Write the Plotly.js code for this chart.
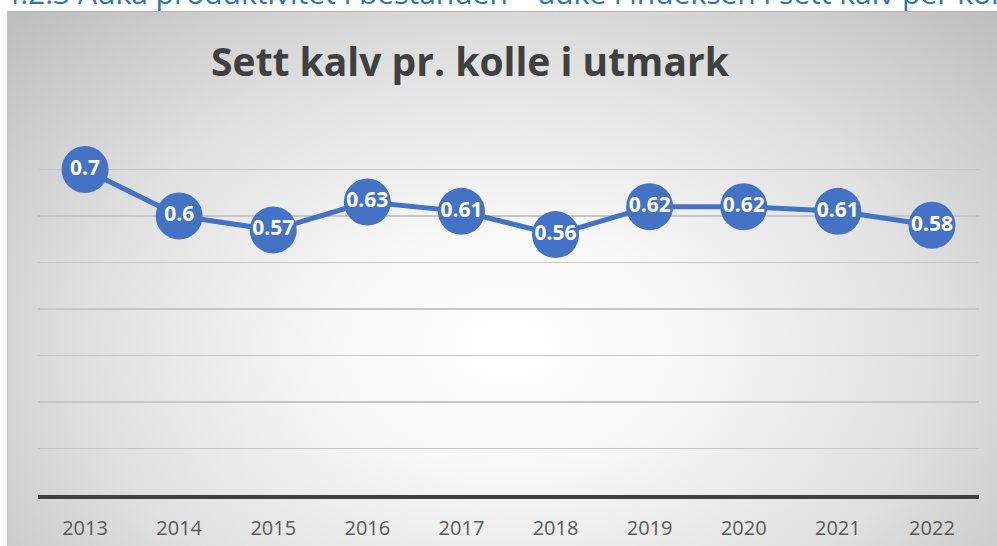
<!DOCTYPE html>
<html>
<head>
<meta charset="utf-8">
<script src="https://cdn.plot.ly/plotly-3.0.1.min.js"></script>
<style>
  html, body { margin: 0; padding: 0; background: #ffffff; width: 997px; height: 546px; overflow: hidden; }
  #heading {
    position: absolute; left: 3px; top: -28px; white-space: nowrap;
    font-family: "Open Sans", sans-serif; font-size: 30px; color: #2E75B6; z-index: 0;
  }
  #box {
    position: absolute; left: 7px; top: 11px; width: 1000px; height: 560px;
    border-top: 1px solid #b4b4b4; border-left: 1px solid #c8c8c8;
    background: radial-gradient(ellipse 68% 85% at 50% 60%, #ffffff 0%, #f8f8f8 25%, #e0e0e0 62%, #bebebe 100%);
    z-index: 1;
  }
  #chart { position: absolute; left: 0; top: 0; width: 997px; height: 546px; z-index: 2; }
</style>
</head>
<body>
<div id="heading">4.2.3 Auka produktivitet i bestanden – auke i indeksen i sett kalv per kolle</div>
<div id="box"></div>
<div id="chart"></div>
<script>
const chartTitle = "Sett kalv pr. kolle i utmark";
const years = ["2013", "2014", "2015", "2016", "2017", "2018", "2019", "2020", "2021", "2022"];
const calvesPerCow = [0.70, 0.60, 0.57, 0.63, 0.61, 0.56, 0.62, 0.62, 0.61, 0.58];

const trace = {
  type: "scatter",
  mode: "lines+markers+text",
  x: years,
  y: calvesPerCow,
  text: calvesPerCow.map(v => String(v)),
  textposition: "middle center",
  textfont: { family: "Open Sans", size: 21, color: "#ffffff", weight: "bold" },
  line: { color: "#4472C4", width: 5 },
  marker: { color: "#4472C4", size: 47, line: { width: 0 } },
  cliponaxis: false,
  hoverinfo: "x+y"
};

const layout = {
  width: 997,
  height: 546,
  margin: { l: 38, r: 18, t: 123, b: 51 },
  paper_bgcolor: "rgba(0,0,0,0)",
  plot_bgcolor: "rgba(0,0,0,0)",
  showlegend: false,
  title: {
    text: "<b>" + chartTitle + "</b>",
    font: { family: "Open Sans", size: 39, color: "#404040" },
    xref: "container", x: 470 / 997, xanchor: "center",
    yref: "container", y: 1 - 62 / 546, yanchor: "middle"
  },
  xaxis: {
    type: "category",
    range: [-0.5, 9.5],
    showline: true, linecolor: "#404040", linewidth: 4,
    showgrid: false, zeroline: false,
    ticks: "", ticklabelstandoff: 12,
    tickfont: { family: "Open Sans", size: 20, color: "#595959" },
    fixedrange: true
  },
  yaxis: {
    range: [0, 0.8],
    dtick: 0.1,
    showticklabels: false,
    showgrid: true, gridcolor: "#c6c6c6", gridwidth: 1.3,
    zeroline: false, showline: false, ticks: "",
    fixedrange: true
  }
};

Plotly.newPlot("chart", [trace], layout, { displayModeBar: false, staticPlot: true });
</script>
</body>
</html>
